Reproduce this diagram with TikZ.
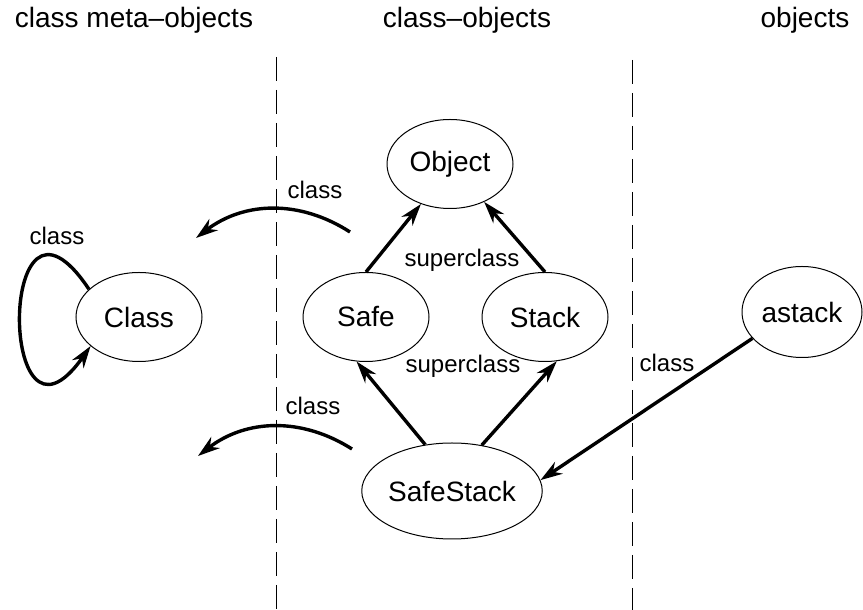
\documentclass[tikz,border=0pt]{standalone}
\usepackage{fontspec}
\setmainfont{Liberation Sans}
\usetikzlibrary{arrows.meta,shapes.geometric,positioning}

\begin{document}
\begin{tikzpicture}[x=1pt,y=1pt,
		cls/.style={ellipse,draw=black,line width=1pt,inner sep=0pt,minimum width=126pt,minimum height=89pt,font=\fontsize{28}{34}\selectfont},
		lbl/.style={anchor=base,font=\fontsize{24}{29}\selectfont},
		hdr/.style={anchor=base,font=\fontsize{28}{34}\selectfont},
		arr/.style={-{Stealth[length=22pt,width=14pt,inset=7pt]},line width=3.4pt},
		sep/.style={dash pattern=on 24pt off 9pt,line width=0.8pt}]
	\useasboundingbox (0,0) rectangle (863,610);
	% column titles
	\node[hdr] (hmeta) at (134,582) {class meta--objects};
	\node[hdr] (hcls)  at (467,582) {class--objects};
	\node[hdr] (hobj)  at (805,582) {objects};
	% column separators
	\draw[sep] (276,553) -- (276,0);
	\draw[sep] (632,550) -- (632,0);
	% objects
	\path 	(139,293) node (cl) [cls] {Class}
	        (450,446) node (ob) [cls] {Object}
	        (366,293) node (sf) [cls] {Safe}
	        (545,293) node (st) [cls] {Stack}
	        (452,119) node (ss) [cls,minimum width=178pt,minimum height=96pt] {SafeStack}
	        (802,298) node (as) [cls,minimum width=120pt,minimum height=91pt] {astack};
	% superclass links
	\draw[arr] (sf.north) -- (ob.-126);
	\draw[arr] (st.north) -- (ob.-48);
	\draw[arr] (ss.120) -- (sf.-102);
	\draw[arr] (ss.57) -- (st.-75);
	\node[lbl] (lsup1) at (462,343) {superclass};
	\node[lbl] (lsup2) at (463,237) {superclass};
	% class links
	\draw[arr] (as.-152) -- (ss.7);
	\node[lbl] (lobj) at (667,238) {class};
	\draw[arr] (cl.151) .. controls +(-92,138) and +(-93,-132) .. (cl.211);
	\node[lbl] (lloop) at (57,365) {class};
	\coordinate (ts) at (350,378);
	\coordinate (te) at (196,372);
	\draw[arr] (ts) to[bend right=35] (te);
	\node[lbl] (ltop) at (315,411) {class};
	\coordinate (bs) at (352,161);
	\coordinate (be) at (198,154);
	\draw[arr] (bs) to[bend right=35] (be);
	\node[lbl] (lbot) at (313,195) {class};
\end{tikzpicture}
\end{document}
